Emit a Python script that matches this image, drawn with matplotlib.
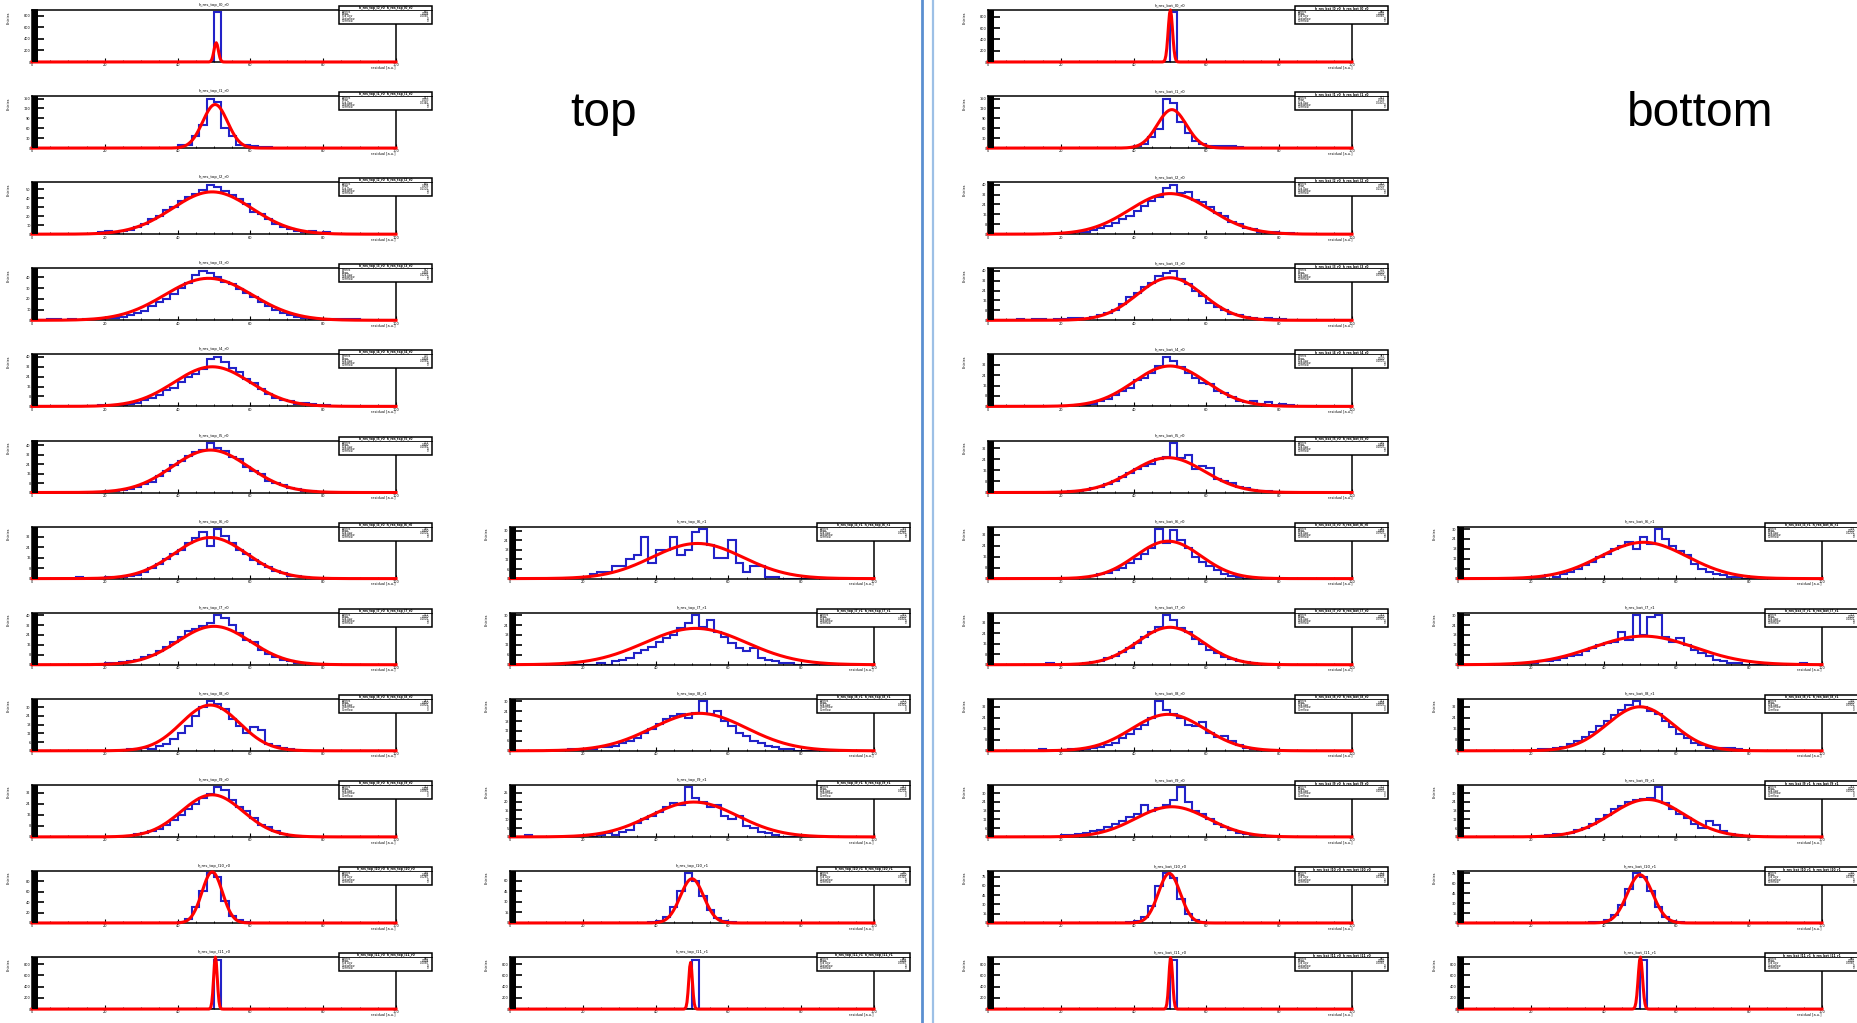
import numpy as np
import matplotlib.pyplot as plt
from matplotlib.patches import Rectangle
from matplotlib.lines import Line2D
from matplotlib.ticker import MaxNLocator, AutoMinorLocator, MultipleLocator

W, H = 1858, 1023
n_bins = 50
x_lo, x_hi = 0.0, 100.0

# ---- top, left column (12 histograms) ----
top_left_start = [25, 20, 9, 2, 9, 10, 6, 10, 13, 13, 20, 25]
top_left_counts = [
    [860],
    [9, 10, 38, 71, 150, 140, 60, 38, 10, 9, 6, 4, 2],
    [2, 3, 1, 3, 5, 8, 11, 17, 20, 27, 30, 37, 41, 45, 49, 55, 52, 48, 43, 39, 33, 25, 22, 17, 11, 8, 6, 3, 2, 4, 1, 2],
    [1, 1, 0, 1, 0, 1, 1, 0, 2, 2, 3, 5, 7, 9, 13, 17, 20, 24, 30, 35, 42, 46, 44, 40, 36, 34, 29, 25, 22, 17, 13, 10, 7, 5, 3, 2, 1, 0, 0, 1, 1, 1, 1],
    [1, 0, 1, 1, 2, 3, 5, 7, 9, 13, 15, 20, 24, 26, 30, 38, 40, 36, 31, 28, 22, 19, 14, 10, 7, 5, 4, 2, 3, 2, 1, 1],
    [1, 1, 2, 3, 5, 7, 9, 14, 18, 23, 27, 31, 34, 36, 42, 38, 35, 30, 28, 22, 18, 16, 10, 8, 6, 4, 3, 1, 1],
    [1, 0, 0, 0, 1, 0, 1, 2, 3, 5, 8, 11, 15, 19, 22, 27, 31, 36, 25, 38, 33, 27, 22, 19, 14, 11, 9, 6, 4, 2, 2, 1],
    [1, 1, 2, 3, 4, 6, 8, 11, 14, 18, 22, 27, 29, 31, 34, 40, 38, 32, 26, 20, 18, 12, 9, 6, 4, 3, 1, 1],
    [1, 1, 2, 1, 3, 5, 8, 12, 17, 24, 30, 34, 32, 29, 22, 17, 12, 16, 14, 5, 3, 2, 1],
    [1, 2, 3, 4, 6, 9, 12, 16, 20, 24, 28, 31, 36, 34, 27, 22, 19, 14, 9, 7, 4, 2, 1, 1],
    [2, 8, 30, 62, 95, 88, 42, 14, 5, 2],
    [880],
]
top_left_amp = [335, 132, 47, 39, 32, 36, 31.5, 31, 31.4, 30.6, 98, 925]
top_left_mean = [50.6, 50.3, 49.5, 48.5, 49.5, 49.0, 49.0, 50.0, 49.0, 49.5, 49.5, 50.4]
top_left_sigma = [0.6, 3.4, 11, 12, 10.5, 10.5, 10, 10, 8, 8.5, 2.8, 0.5]

# ---- top, right column (rows 7-12) ----
top_right_start = [10, 12, 8, 2, 19, 25]
top_right_counts = [
    [1, 3, 4, 4, 8, 8, 12, 15, 26, 10, 18, 18, 26, 15, 18, 29, 31, 21, 13, 13, 24, 10, 4, 8, 8, 1, 1],
    [1, 0, 2, 3, 4, 7, 9, 11, 14, 16, 18, 22, 25, 30, 23, 27, 20, 17, 13, 10, 8, 10, 4, 3, 2, 1, 1],
    [1, 0, 1, 1, 2, 2, 3, 5, 6, 8, 11, 13, 16, 19, 21, 22, 20, 23, 30, 22, 24, 18, 15, 11, 9, 6, 5, 3, 2, 1, 1],
    [1, 0, 0, 0, 0, 0, 0, 0, 1, 0, 1, 2, 1, 3, 4, 8, 10, 12, 14, 17, 19, 18, 28, 22, 20, 17, 18, 12, 10, 12, 6, 5, 3, 2, 1],
    [1, 3, 8, 22, 45, 70, 60, 38, 18, 7, 3, 1],
    [880],
]
top_right_amp = [22, 22, 22.7, 19.7, 62.5, 830]
top_right_mean = [51.5, 51.0, 52.0, 50.5, 50.0, 49.6]
top_right_sigma = [12.5, 14, 13, 12, 3.2, 0.5]

# ---- bottom, left column (12 histograms) ----
bottom_left_start = [25, 20, 10, 4, 12, 11, 13, 8, 7, 10, 19, 25]
bottom_left_counts = [
    [880],
    [6, 12, 33, 58, 150, 137, 78, 45, 23, 11, 6, 6, 5, 5, 2],
    [1, 1, 2, 2, 3, 5, 7, 9, 12, 15, 19, 23, 27, 30, 37, 40, 33, 34, 28, 26, 22, 17, 15, 10, 8, 5, 4, 2, 1, 2, 1, 1],
    [1, 0, 1, 1, 0, 1, 1, 2, 2, 1, 3, 4, 6, 8, 13, 19, 22, 27, 30, 36, 38, 40, 33, 29, 24, 20, 14, 11, 8, 5, 4, 3, 2, 1, 2, 1, 1],
    [1, 1, 2, 4, 6, 9, 12, 14, 20, 22, 26, 31, 38, 35, 30, 26, 22, 18, 17, 12, 10, 7, 4, 3, 4, 2, 3, 1, 2, 1],
    [1, 1, 2, 3, 4, 6, 8, 11, 14, 17, 19, 21, 24, 26, 36, 25, 27, 17, 19, 18, 10, 8, 7, 4, 3, 2, 1, 1],
    [1, 2, 3, 4, 6, 8, 11, 14, 18, 22, 36, 26, 35, 28, 22, 16, 12, 9, 6, 3, 2, 1],
    [1, 0, 0, 0, 0, 1, 2, 3, 5, 7, 10, 13, 17, 21, 25, 29, 38, 34, 28, 25, 20, 16, 11, 9, 6, 4, 3, 2, 1],
    [1, 0, 0, 0, 1, 0, 1, 2, 3, 4, 6, 9, 12, 16, 19, 24, 36, 30, 27, 24, 19, 18, 21, 13, 10, 11, 7, 4, 2, 1],
    [1, 1, 2, 3, 4, 5, 7, 9, 11, 14, 16, 22, 18, 20, 22, 25, 34, 24, 18, 16, 12, 9, 7, 5, 3, 2, 1, 1],
    [1, 3, 9, 28, 60, 80, 72, 38, 14, 5, 2],
    [880],
]
bottom_left_amp = [925, 116.5, 32.8, 34.4, 31, 25.3, 27.2, 28.7, 26.5, 20.7, 80, 925]
bottom_left_mean = [50.1, 50.5, 50.0, 50.0, 50.0, 49.5, 49.5, 50.0, 49.5, 50.5, 49.8, 50.2]
bottom_left_sigma = [0.6, 4, 11, 9, 10, 10, 9, 9, 10, 10, 3, 0.5]

# ---- bottom, right column (rows 7-12) ----
bottom_right_start = [10, 8, 11, 12, 18, 25]
bottom_right_counts = [
    [1, 1, 2, 1, 3, 4, 6, 8, 10, 13, 15, 18, 20, 22, 18, 25, 21, 30, 24, 20, 17, 14, 9, 6, 4, 3, 2, 1, 1],
    [1, 1, 1, 2, 2, 3, 4, 5, 6, 8, 10, 12, 13, 14, 20, 15, 30, 18, 29, 30, 17, 14, 16, 12, 9, 7, 5, 3, 2, 1, 1, 0, 0, 0, 0, 0, 0, 0, 0, 1],
    [1, 1, 2, 3, 5, 7, 10, 14, 18, 22, 26, 30, 33, 36, 32, 29, 27, 22, 17, 12, 9, 6, 4, 2, 1, 2, 2, 1],
    [1, 2, 2, 3, 5, 6, 9, 12, 15, 19, 21, 24, 25, 26, 27, 34, 23, 19, 16, 13, 9, 6, 11, 8, 4, 2, 1],
    [1, 2, 5, 12, 28, 52, 75, 70, 48, 24, 9, 3, 1],
    [880],
]
bottom_right_amp = [22, 17.3, 32, 25.7, 73, 925]
bottom_right_mean = [51.0, 51.0, 50.0, 52.0, 50.0, 50.1]
bottom_right_sigma = [12, 14, 9, 10, 3.5, 0.6]

col_left = [32, 510, 988, 1458]
ax_w, ax_h = 364, 52
row_step = 86.1
blue = '#2222c8'


def fx(px):
    return px / W


def fy(py):
    return 1 - py / H


def draw_panel(fig, left, top, start, counts, amp, mean, sigma, name):
    ax = fig.add_axes([fx(left), fy(top + ax_h), ax_w / W, ax_h / H])
    h = np.zeros(n_bins)
    h[start:start + len(counts)] = counts
    edges = np.linspace(x_lo, x_hi, n_bins + 1)
    ax.stairs(h, edges, color=blue, lw=1.5, zorder=2)
    xs = np.linspace(x_lo, x_hi, 400)
    ys = amp * np.exp(-0.5 * ((xs - mean) / sigma) ** 2)
    ax.plot(xs, ys, color='red', lw=2.2, zorder=3, clip_on=False)
    ax.set_xlim(x_lo, x_hi)
    ax.set_ylim(0, 1.05 * max(counts))
    for s in ax.spines.values():
        s.set_linewidth(1.1)
    ax.add_patch(Rectangle((0, 0), 6 / ax_w, 1, transform=ax.transAxes,
                           color='black', zorder=4, lw=0))
    ax.yaxis.set_major_locator(MaxNLocator(6))
    ax.yaxis.set_minor_locator(AutoMinorLocator(2))
    ax.xaxis.set_major_locator(MultipleLocator(20))
    ax.xaxis.set_minor_locator(MultipleLocator(5))
    ax.tick_params(axis='y', which='major', direction='in', length=8.5, width=1.2,
                   labelsize=2.5, pad=1)
    ax.tick_params(axis='y', which='minor', direction='in', length=4.5, width=1.2)
    ax.tick_params(axis='x', which='major', direction='in', length=3, width=0.8,
                   labelsize=2.5, pad=1)
    ax.tick_params(axis='x', which='minor', direction='in', length=1.5, width=0.6)
    # title, axis titles
    fig.text(fx(left + ax_w / 2), fy(top - 3), name, fontsize=2.8,
             ha='center', va='bottom')
    fig.text(fx(left - 25), fy(top + 1), 'Entries', fontsize=2.5,
             rotation=90, ha='left', va='top')
    fig.text(fx(left + ax_w), fy(top + ax_h + 3), 'residual [a.u.]', fontsize=2.5,
             ha='right', va='top')
    # stat box
    bx0, bx1 = left + ax_w - 57, left + ax_w + 36
    by0, by1 = top - 4, top + 14
    fig.add_artist(Rectangle((fx(bx0), fy(by1)), (bx1 - bx0) / W, (by1 - by0) / H,
                             transform=fig.transFigure, facecolor='white',
                             edgecolor='black', lw=1.1, zorder=10))
    fig.add_artist(Line2D([fx(bx0), fx(bx1)], [fy(by0 + 4), fy(by0 + 4)],
                          transform=fig.transFigure, color='black', lw=0.6, zorder=11))
    fig.text(fx((bx0 + bx1) / 2), fy(by0 + 2), name + '  ' + name, fontsize=2.2,
             ha='center', va='center', fontweight='bold', zorder=12)
    n = int(sum(counts))
    lines = [('Entries', str(n)), ('Mean', '%.3f' % (mean / 100)),
             ('Std Dev', '%.4f' % (sigma / 100)), ('Underflow', '0'), ('Overflow', '0')]
    for j, (lab, val) in enumerate(lines):
        yy = by0 + 6 + j * 2.2
        fig.text(fx(bx0 + 3), fy(yy), lab, fontsize=1.9, ha='left', va='center', zorder=12)
        fig.text(fx(bx1 - 3), fy(yy), val, fontsize=1.9, ha='right', va='center', zorder=12)
    return ax


fig = plt.figure(figsize=(W / 100, H / 100), dpi=100)

for i in range(12):
    draw_panel(fig, col_left[0], 10 + i * row_step, top_left_start[i], top_left_counts[i],
               top_left_amp[i], top_left_mean[i], top_left_sigma[i], 'h_res_top_l%d_r0' % i)
    draw_panel(fig, col_left[2], 10 + i * row_step, bottom_left_start[i], bottom_left_counts[i],
               bottom_left_amp[i], bottom_left_mean[i], bottom_left_sigma[i], 'h_res_bot_l%d_r0' % i)
for i in range(6):
    r = i + 6
    draw_panel(fig, col_left[1], 10 + r * row_step, top_right_start[i], top_right_counts[i],
               top_right_amp[i], top_right_mean[i], top_right_sigma[i], 'h_res_top_l%d_r1' % r)
    draw_panel(fig, col_left[3], 10 + r * row_step, bottom_right_start[i], bottom_right_counts[i],
               bottom_right_amp[i], bottom_right_mean[i], bottom_right_sigma[i], 'h_res_bot_l%d_r1' % r)

# separator between the two halves
fig.add_artist(Line2D([fx(922), fx(922)], [0, 1], transform=fig.transFigure,
                      color='#5b8fd0', lw=2))
fig.add_artist(Line2D([fx(933), fx(933)], [0, 1], transform=fig.transFigure,
                      color='#9dc0e6', lw=1.6))

fig.text(fx(604), fy(114), 'top', fontsize=34.5, family='Liberation Sans',
         ha='center', va='center')
fig.text(fx(1700), fy(114), 'bottom', fontsize=34.5, family='Liberation Sans',
         ha='center', va='center')

fig.savefig('out.png', dpi=100)
